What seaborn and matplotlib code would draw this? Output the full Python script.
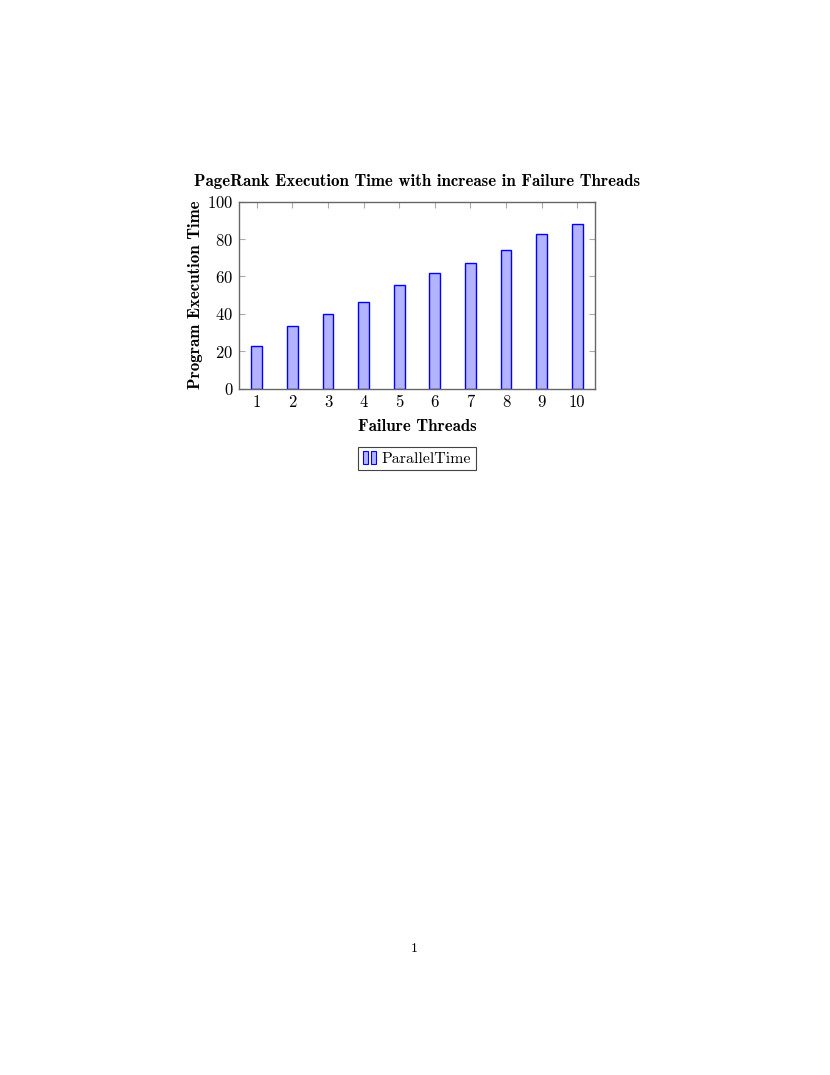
"""
PageRank execution time vs number of failure threads (pgfplots-style bar chart).
"""
import matplotlib
matplotlib.use("Agg")
import matplotlib.pyplot as plt
import seaborn as sns
import pandas as pd
from matplotlib.legend_handler import HandlerBase
from matplotlib.patches import Rectangle

# ── data ─────────────────────────────────────────────────────────────────────
threads = [1, 2, 3, 4, 5, 6, 7, 8, 9, 10]
parallel_time = [23.0, 33.7, 39.8, 46.5, 55.4, 62.0, 67.4, 74.0, 82.5, 88.2]
y_ticks = [0, 20, 40, 60, 80, 100]

FILL = "#b3b3ff"
EDGE = "#0000ff"

sns.set_theme(style="white")
plt.rcParams["font.family"] = ["cmr10", "DejaVu Serif"]
plt.rcParams["axes.formatter.use_mathtext"] = True
plt.rcParams["mathtext.fontset"] = "cm"
plt.rcParams["text.color"] = "black"
plt.rcParams["axes.labelcolor"] = "black"

df = pd.DataFrame({"threads": threads, "time": parallel_time})

fig = plt.figure(figsize=(8.3, 10.75), dpi=100)
ax = fig.add_axes([239 / 830, 1 - 388.7 / 1075, 356 / 830, 187 / 1075])

sns.barplot(data=df, x="threads", y="time", ax=ax, width=0.3,
            color=FILL, saturation=1, edgecolor=EDGE, linewidth=1.0)

ax.set_xlim(-0.5, 9.5)
ax.set_ylim(0, 100)
ax.set_yticks(y_ticks)
ax.set_xticks(range(len(threads)))
ax.set_xticklabels([str(t) for t in threads])

for sp in ax.spines.values():
    sp.set_color("#666666")
    sp.set_linewidth(1.0)

ax.tick_params(axis="both", which="both", direction="in", length=4,
               color="#aaaaaa", width=0.8, labelsize=12,
               top=True, right=True, bottom=True, left=True,
               labelcolor="black", pad=4)

bold = dict(family=["cmb10", "DejaVu Serif"], fontsize=12.2, color="black")
ax.set_xlabel("Failure Threads", labelpad=7, **bold)
ax.set_ylabel("Program Execution Time", labelpad=3, **bold)
ax.set_title("PageRank Execution Time with increase in Failure Threads",
             pad=11, **bold)


class TwoBarHandler(HandlerBase):
    def create_artists(self, legend, orig_handle, xdescent, ydescent,
                       width, height, fontsize, trans):
        w = width * 0.3
        bars = []
        for i in range(2):
            r = Rectangle((-xdescent + i * (w + width * 0.2), -ydescent - height * 0.1),
                          w, height * 1.1, facecolor=FILL, edgecolor=EDGE,
                          linewidth=0.8, transform=trans)
            bars.append(r)
        return bars


handle = Rectangle((0, 0), 1, 1, facecolor=FILL, edgecolor=EDGE)
leg = fig.legend([handle], ["ParallelTime"], handler_map={Rectangle: TwoBarHandler()},
                 loc="center", bbox_to_anchor=(417 / 830, 1 - 458.5 / 1075),
                 fancybox=False, edgecolor="#444444", framealpha=1,
                 handlelength=1.0, handletextpad=0.15, borderpad=0.3,
                 borderaxespad=0.0, labelcolor="black",
                 prop={"family": ["cmr10", "DejaVu Serif"], "size": 11.5})
leg.get_frame().set_linewidth(0.8)

fig.text(414 / 830, 1 - 949 / 1075, "1", ha="center", va="center",
         fontsize=10, family=["cmr10", "DejaVu Serif"], color="black")

fig.savefig("out.png", dpi=100)
